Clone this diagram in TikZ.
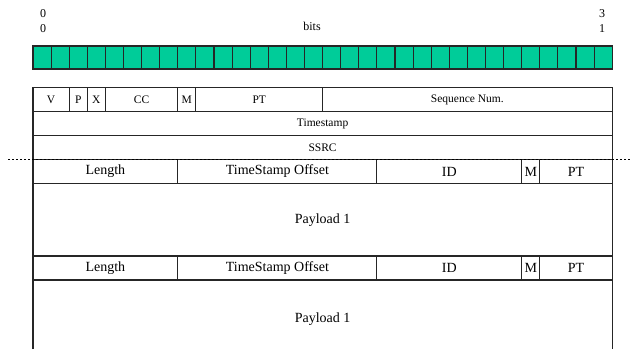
\documentclass[tikz,border=0pt]{standalone}
\usepackage{fontspec}
\setmainfont{Liberation Serif}
\usetikzlibrary{positioning}
\definecolor{bitgreen}{HTML}{00CC99}
\newcommand{\bw}{18.1}

\begin{document}
\begin{tikzpicture}[
  x=1pt, y=-1pt,
  fld/.style={draw=black!85, line width=1.1pt, anchor=north west, inner sep=0pt,
              outer sep=0pt, align=center},
  bits/.style={fld, minimum width=#1*\bw pt},
  hd/.style={font=\fontsize{11.5}{13}\selectfont, minimum height=24pt},
  ex/.style={font=\fontsize{14}{16}\selectfont, minimum height=24pt},
  cell/.style={fld, fill=bitgreen, minimum width=\bw pt, minimum height=23pt},
  num/.style={font=\fontsize{12}{15}\selectfont, align=center, inner sep=0pt},
  sep/.style={line width=0.8pt, dash pattern=on 1.5pt off 2.5pt, draw=black},
]
\useasboundingbox (0,0) rectangle (632,349);

% ---- Bit ruler ----
\node[num] (lo)   at (43,21.5)  {0\\0};
\node[num] (hi)   at (602,21.5) {3\\1};
\node[num] (bitl) at (312,26)   {bits};
\foreach \i in {0,...,31}
  \node[cell] (b\i) at (33+\i*\bw,46) {};

% ---- RTP header ----
\node[bits=2,  hd] (v)   at (33,87.5)         {V};
\node[bits=1,  hd] (p)   at (33+2*\bw,87.5)   {P};
\node[bits=1,  hd] (x)   at (33+3*\bw,87.5)   {X};
\node[bits=4,  hd] (cc)  at (33+4*\bw,87.5)   {CC};
\node[bits=1,  hd] (m)   at (33+8*\bw,87.5)   {M};
\node[bits=7,  hd] (pt)  at (33+9*\bw,87.5)   {PT};
\node[bits=16, hd] (seq) at (33+16*\bw,87.5)  {Sequence Num.};
\node[bits=32, hd] (ts)  at (33,111.5)        {Timestamp};
\node[bits=32, hd] (ssrc) at (33,135.5)       {SSRC};

% ---- First block ----
\node[bits=8,  ex] (len1) at (33,159.5)         {Length};
\node[bits=11, ex] (tso1) at (33+8*\bw,159.5)   {TimeStamp Offset};
\node[bits=8,  ex] (id1)  at (33+19*\bw,159.5)  {ID};
\node[bits=1,  ex] (m1)   at (33+27*\bw,159.5)  {M};
\node[bits=4,  ex] (pt1)  at (33+28*\bw,159.5)  {PT};
\node[bits=32, ex, minimum height=72.5pt] (pay1) at (33,183.5) {Payload 1};

% ---- Second block (runs past the bottom edge) ----
\node[bits=8,  ex] (len2) at (33,256)           {Length};
\node[bits=11, ex] (tso2) at (33+8*\bw,256)     {TimeStamp Offset};
\node[bits=8,  ex] (id2)  at (33+19*\bw,256)    {ID};
\node[bits=1,  ex] (m2)   at (33+27*\bw,256)    {M};
\node[bits=4,  ex] (pt2)  at (33+28*\bw,256)    {PT};
\node[bits=32, ex, draw=none, minimum height=78pt] (pay2) at (33,280) {Payload 1};
\coordinate (pay2bl) at (33,349);
\coordinate (pay2br) at (33+32*\bw,349);
\draw[draw=black!85, line width=1.1pt]
     (pay2bl) -- (pay2.north west) -- (pay2.north east) -- (pay2br);

% ---- Header / extension boundary ----
\coordinate (sepl) at (8,159.5);
\coordinate (sepr) at (632,159.5);
\draw[sep] (sepl) -- (sepr);
\end{tikzpicture}
\end{document}
